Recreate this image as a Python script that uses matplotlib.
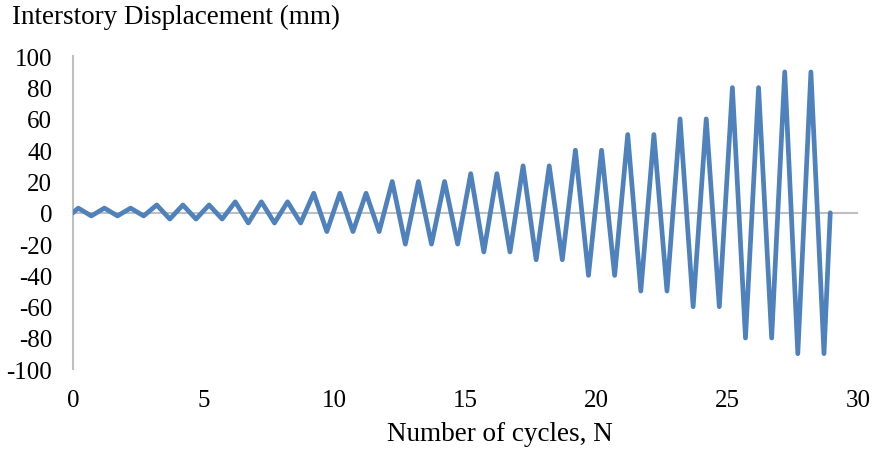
import matplotlib
matplotlib.use("Agg")
import matplotlib.pyplot as plt

# Cycle numbers and displacement amplitudes (mm)
cycles = [0, 1, 2, 3, 4, 5, 6, 7, 8, 9, 10, 11, 12, 13, 14,
          15, 16, 17, 18, 19, 20, 21, 22, 23, 24, 25, 26, 27, 28]
peaks = [3, 3, 3, 5, 5, 5, 7, 7, 7, 12.5, 12.5, 12.5, 20, 20, 20,
         25, 25, 30, 30, 40, 40, 50, 50, 60, 60, 80, 80, 90, 90]
troughs = [-2, -2, -2, -4, -4, -4, -6.5, -6.5, -6.5, -12, -12, -12, -20, -20, -20,
           -25, -25, -30, -30, -40, -40, -50, -50, -60, -60, -80, -80, -90, -90]
peak_offset = 0.2
trough_offset = 0.7
x_start, x_end = 0.0, 28.94

xs = [x_start]
ys = [0]
for c, p, t in zip(cycles, peaks, troughs):
    xs += [c + peak_offset, c + trough_offset]
    ys += [p, t]
xs.append(x_end)
ys.append(0)

x_ticks = [0, 5, 10, 15, 20, 25, 30]
y_ticks = [-100, -80, -60, -40, -20, 0, 20, 40, 60, 80, 100]

plt.rcParams['font.family'] = ['Liberation Serif', 'DejaVu Serif']

W, H = 875, 452
fig = plt.figure(figsize=(W / 100, H / 100), dpi=100)
left, right = 73 / W, 858 / W
top, bottom = 57.3 / H, 370.3 / H
ax = fig.add_axes([left, 1 - bottom, right - left, bottom - top])

ax.axhline(0, color='#BFBFBF', lw=1.5, zorder=1)
ax.plot(xs, ys, color='#4F81BD', lw=3.4, solid_joinstyle='round',
        solid_capstyle='round', zorder=3)

ax.set_xlim(0, 30)
ax.set_ylim(-100, 100)
ax.set_xticks(x_ticks)
ax.set_yticks(y_ticks)
ax.set_xticklabels([str(v) for v in x_ticks])
ax.set_yticklabels([str(v) for v in y_ticks])

for s in ['top', 'right', 'bottom']:
    ax.spines[s].set_visible(False)
ax.spines['left'].set_color('#BFBFBF')
ax.spines['left'].set_linewidth(1.5)
ax.tick_params(axis='both', length=0, labelsize=18, colors='black')
ax.tick_params(axis='y', pad=15)
ax.tick_params(axis='x', pad=14)

fig.text(12 / W, 1 - 17 / H, 'Interstory Displacement (mm)', fontsize=19.5,
         ha='left', va='center')
fig.text(500 / W, 1 - 435 / H, 'Number of cycles, N', fontsize=19.5,
         ha='center', va='center')

fig.savefig('out.png', dpi=100)
